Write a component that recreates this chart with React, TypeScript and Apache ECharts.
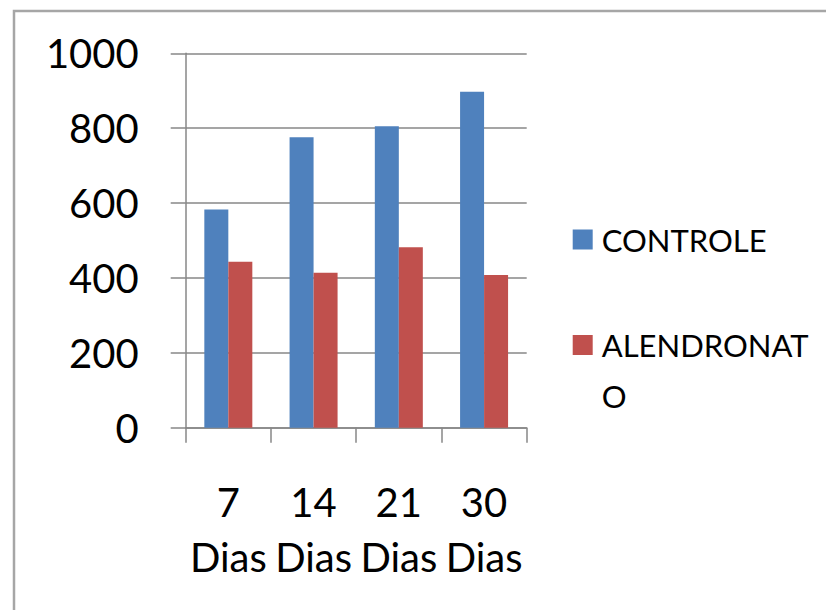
import React, { useEffect, useRef } from "react";
import * as echarts from "echarts";

const categories = ["7 Dias", "14 Dias", "21 Dias", "30 Dias"];
const controle = [583, 776, 805, 897];
const alendronato = [443, 414, 482, 408];
const seriesNames = ["CONTROLE", "ALENDRONATO"];

const FONT = "Lato, 'Open Sans', sans-serif";

export default function App() {
  const ref = useRef<HTMLDivElement>(null);
  useEffect(() => {
    document.body.style.margin = "0";
    const chart = echarts.init(ref.current!, null, { renderer: "svg" });
    chart.setOption({
      animation: false,
      backgroundColor: "#ffffff",
      textStyle: { fontFamily: FONT },
      graphic: [
        {
          type: "rect",
          shape: { x: 14, y: 11, width: 900, height: 800 },
          style: { fill: "none", stroke: "#a6a6a6", lineWidth: 2.5 },
          silent: true,
        },
      ],
      grid: { left: 185.7, right: 299.3, top: 53.3, bottom: 182.3 },
      legend: [
        {
          data: [seriesNames[0]],
          orient: "vertical",
          left: 567.7,
          top: 214.5,
          icon: "rect",
          itemWidth: 20,
          itemHeight: 20,
          textStyle: {
            fontFamily: FONT,
            fontSize: 31,
            color: "#000",
            lineHeight: 40,
            padding: [0, 0, 0, 4],
          },
        },
        {
          data: [seriesNames[1]],
          orient: "vertical",
          left: 567.7,
          top: 263.5,
          icon: "rect",
          itemWidth: 20,
          itemHeight: 20,
          formatter: () => " \nALENDRONAT\nO",
          textStyle: {
            fontFamily: FONT,
            fontSize: 31,
            color: "#000",
            lineHeight: 51,
            padding: [0, 0, 0, 4],
          },
        },
      ],
      xAxis: {
        type: "category",
        data: categories,
        axisLine: { show: true, lineStyle: { color: "#878787", width: 1.5 } },
        axisTick: { show: true, length: 15, lineStyle: { color: "#878787", width: 1.5 } },
        axisLabel: {
          fontFamily: FONT,
          fontSize: 40,
          color: "#000",
          lineHeight: 55,
          margin: 47,
          interval: 0,
          formatter: (v: string) => v.replace(" ", "\n"),
        },
      },
      yAxis: {
        type: "value",
        min: 0,
        max: 1000,
        interval: 200,
        axisLine: { show: true, lineStyle: { color: "#878787", width: 1.5 } },
        axisTick: { show: true, length: 15, lineStyle: { color: "#878787", width: 1.5 } },
        splitLine: { show: true, lineStyle: { color: "#878787", width: 1.5 } },
        axisLabel: {
          fontFamily: FONT,
          fontSize: 40,
          color: "#000",
          margin: 47,
          formatter: (v: number) => String(v),
        },
      },
      series: [
        {
          name: seriesNames[0],
          type: "bar",
          data: controle,
          barWidth: 24,
          barGap: "0%",
          itemStyle: { color: "#4F81BD" },
        },
        {
          name: seriesNames[1],
          type: "bar",
          data: alendronato,
          barWidth: 24,
          barGap: "0%",
          itemStyle: { color: "#C0504D" },
        },
      ],
    });
    return () => chart.dispose();
  }, []);
  return <div ref={ref} style={{ width: 826, height: 610 }} />;
}
